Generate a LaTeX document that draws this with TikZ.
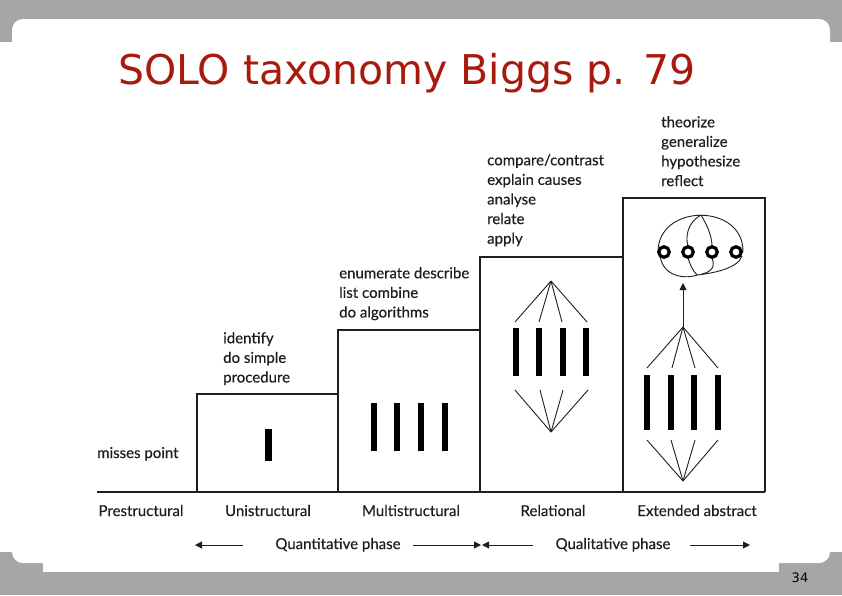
\documentclass[tikz,border=0pt]{standalone}
\usepackage{fontspec}
\setmainfont{Lato}[FakeBold=0.35]
\newfontfamily\titlefont{DejaVu Sans}
\usetikzlibrary{arrows.meta}
\definecolor{bg}{RGB}{166,166,168}
\definecolor{titlered}{RGB}{168,26,14}
\definecolor{ink}{RGB}{30,30,30}
\begin{document}
\begin{tikzpicture}[x=1pt,y=-1pt,
  frame/.style={draw=ink,line width=1.3pt},
  bar/.style={fill=black,draw=none,inner sep=0pt,minimum width=6pt},
  fan/.style={draw=ink,line width=0.9pt},
  ring/.style={circle,draw=black,line width=3.2pt,inner sep=0pt,minimum size=10.5pt,fill=white},
  lbl/.style={inner sep=0pt,font=\fontsize{15}{19.6}\selectfont,text=ink},
  lst/.style={lbl,align=left,anchor=north west},
  arr/.style={draw=ink,line width=1pt,-{Triangle[width=7pt,length=7pt]}}]
\useasboundingbox (0,0) rectangle (842,595);
% background
\fill[bg] (0,0) rectangle (842,595);
\fill[white,rounded corners=11pt] (12,19) rectangle (830,563);
\fill[white] (0,42) rectangle (842,552);
\fill[white] (43,500) rectangle (779,572);
% title
\node[anchor=base west,inner sep=0pt,font=\titlefont\fontsize{41}{41}\selectfont,text=titlered] (title) at (118,84) {SOLO taxonomy Biggs p. 79};
\node[inner sep=0pt,font=\titlefont\fontsize{13}{13}\selectfont,text=black] (pg) at (800,578) {34};
% steps
\draw[frame] (97,492) -- (765,492);
\draw[frame] (197,492) -- (197,394) -- (338,394) -- (338,492);
\draw[frame] (338,394) -- (338,330) -- (480,330) -- (480,492);
\draw[frame] (480,330) -- (480,257) -- (623,257) -- (623,492);
\draw[frame] (623,257) -- (623,198) -- (765,198) -- (765,492);
% uni
\node[bar,minimum width=7pt,minimum height=32pt] (u1) at (268.5,445) {};
% multi
\foreach \x [count=\i] in {374,397,421,445}
  \node[bar,minimum height=48pt] (m\i) at (\x,427) {};
% relational
\foreach \x [count=\i] in {516,539,563,586}
  \node[bar,minimum width=5.5pt,minimum height=48pt] (r\i) at (\x,352) {};
\coordinate (rtop) at (551,281);
\coordinate (rbot) at (551,432);
\foreach \x [count=\i] in {515,539,562,587} {
  \coordinate (rut\i) at (\x,322);
  \draw[fan] (rtop) -- (rut\i);
}
\foreach \x [count=\i] in {515,540,563,588} {
  \coordinate (rlb\i) at (\x,390);
  \draw[fan] (rlb\i) -- (rbot);
}
% extended abstract
\foreach \x [count=\i] in {647,671,694,718}
  \node[bar,minimum height=55pt] (e\i) at (\x,402.5) {};
\coordinate (etop) at (683,327);
\coordinate (ebot) at (683,481);
\foreach \x [count=\i] in {647,672,695,718} {
  \coordinate (eut\i) at (\x,368);
  \draw[fan] (etop) -- (eut\i);
}
\foreach \x [count=\i] in {647,671,695,718} {
  \coordinate (elb\i) at (\x,440);
  \draw[fan] (elb\i) -- (ebot);
}
\coordinate (etip) at (683,283);
\draw[draw=ink,line width=0.9pt,-{Triangle[width=7pt,length=7pt]}] (etop) -- (etip);
% ellipse structure
\coordinate (otop) at (701,215);
\coordinate (obot) at (697,275);
\draw[fan] (658,252) .. controls (658,203) and (744,203) .. (743,252);
\draw[fan] (660,256) .. controls (664,280) and (690,278) .. (obot) .. controls (715,273) and (738,268) .. (742,256);
\draw[fan] (otop) .. controls (688,222) and (685,236) .. (688,246);
\draw[fan] (otop) .. controls (707,225) and (712,236) .. (712,246);
\draw[fan] (688,258) .. controls (690,264) and (692,270) .. (obot);
\draw[fan] (712,258) .. controls (716,268) and (710,272) .. (702,274);
\foreach \x [count=\i] in {664,688,712,736}
  \node[ring] (c\i) at (\x,252) {};
% texts
\node[lst] (ttext) at (661,116) {theorize\\generalize\\hypothesize\\reflect};
\node[lst] (rtext) at (487,154) {compare/contrast\\explain causes\\analyse\\relate\\apply};
\node[lst] (mtext) at (339,267) {enumerate describe\\list combine\\do algorithms};
\node[lst] (utext) at (223,332) {identify\\do simple\\procedure};
\node[lbl,anchor=base west] (ptext) at (97,458) {misses point};
% level names
\node[lbl,anchor=base] (l1) at (141,516) {Prestructural};
\node[lbl,anchor=base] (l2) at (268,516) {Unistructural};
\node[lbl,anchor=base] (l3) at (411,516) {Multistructural};
\node[lbl,anchor=base] (l4) at (553,516) {Relational};
\node[lbl,anchor=base] (l5) at (697,516) {Extended abstract};
% phases
\node[lbl,anchor=base] (qn) at (338,549) {Quantitative phase};
\node[lbl,anchor=base] (ql) at (613,549) {Qualitative phase};
\coordinate (a0) at (195,545);
\coordinate (a1) at (243,545);
\coordinate (a2) at (413,545);
\coordinate (a3) at (481,545);
\coordinate (a4) at (533,545);
\coordinate (a5) at (482,545);
\coordinate (a6) at (690,545);
\coordinate (a7) at (750,545);
\draw[arr] (a1) -- (a0);
\draw[arr] (a2) -- (a3);
\draw[arr] (a4) -- (a5);
\draw[arr] (a6) -- (a7);
\end{tikzpicture}
\end{document}
